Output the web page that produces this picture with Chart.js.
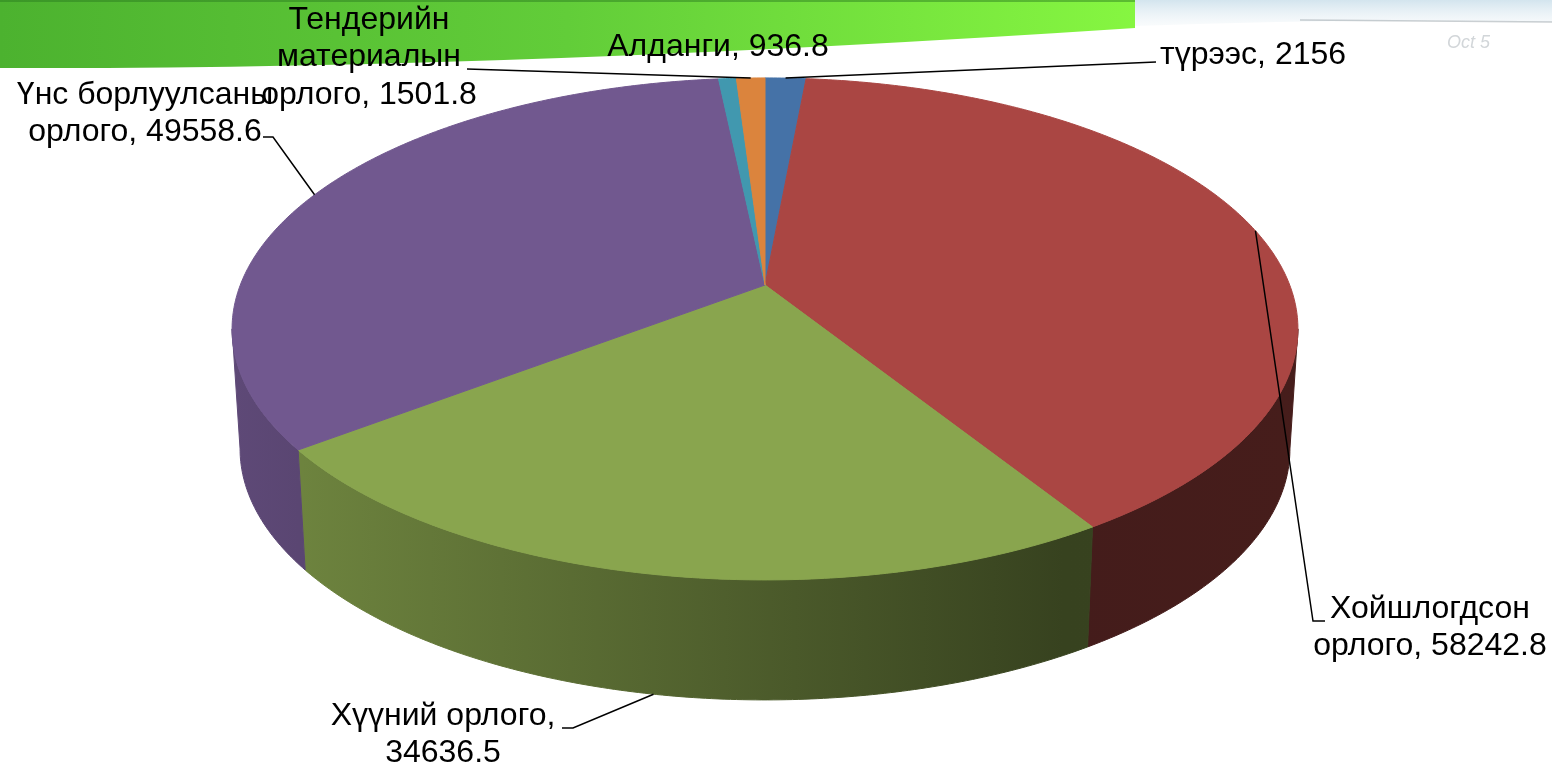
<!DOCTYPE html>
<html lang="mn">
<head>
<meta charset="utf-8">
<title>Орлого</title>
<script src="https://cdn.jsdelivr.net/npm/chart.js@4.4.1/dist/chart.umd.min.js"></script>
<style>
    html, body { margin: 0; padding: 0; background: #fff; }
    canvas { display: block; }
</style>
</head>
<body>
<canvas id="chart" width="1552" height="768"></canvas>
<script>
// ── Data ──────────────────────────────────────────────
const labels = ['түрээс', 'Хойшлогдсон орлого', 'Хүүний орлого', 'Үнс борлуулсаны орлого', 'Алданги', 'Тендерийн материалын орлого'];
const values = [2156, 58242.8, 34636.5, 49558.6, 936.8, 1501.8];
const colors = ['#4572A7', '#AA4643', '#89A54E', '#71588F', '#4198AF', '#DB843D'];
// words per line for each data label ("name, value")
const labelWrap = [[2], [1, 2], [2, 1], [2, 2], [2], [1, 1, 2]];

// ── Label placement ───────────────────────────────────
const labelLayout = [
    { x: 1160, y: 55, align: 'left', path: [[1156, 62]] },
    { x: 1430, y: 609, align: 'center', path: [[1313, 621], [1325, 621]] },
    { x: 443, y: 716, align: 'center', path: [[573, 728], [562, 728]], edge: 1 },
    { x: 145, y: 95, align: 'center', path: [[273, 137], [263, 137]] },
    { x: 718, y: 47, align: 'center', path: null },
    { x: 369, y: 20, align: 'center', path: [[467, 69]] }
];
const LINE_H = 37.5;
const FONT = '32px "Liberation Sans", Arial, sans-serif';

// ── Perspective view of the pie ───────────────────────
const CX = 765, CY = 285, RX = 524.7, RY = 243.3, K = 0.175;
const DEPTH = 120, BOTTOM_SHRINK = 0.985;

function project(a, h) {
    const u = Math.cos(a), v = Math.sin(a);
    const w = 1 - K * v;
    const s = h ? BOTTOM_SHRINK : 1;
    return [CX + s * RX * u / w, CY + RY * v / w + h * DEPTH];
}

function shade(hex, f) {
    const r = parseInt(hex.slice(1, 3), 16);
    const g = parseInt(hex.slice(3, 5), 16);
    const b = parseInt(hex.slice(5, 7), 16);
    return `rgb(${Math.round(r * f)},${Math.round(g * f)},${Math.round(b * f)})`;
}

function arcPoints(s, e, h) {
    const pts = [];
    const n = Math.max(2, Math.ceil(Math.abs(e - s) / 0.01));
    for (let i = 0; i <= n; i++) pts.push(project(s + (e - s) * i / n, h));
    return pts;
}

const pie3d = {
    id: 'pie3d',
    beforeDraw(chart) {
        const ctx = chart.ctx;
        ctx.save();
        ctx.fillStyle = '#ffffff';
        ctx.fillRect(0, 0, chart.width, chart.height);

        // slide header swoosh
        const g = ctx.createLinearGradient(0, 0, 1135, 0);
        g.addColorStop(0, '#4cb22f');
        g.addColorStop(0.5, '#62cd39');
        g.addColorStop(1, '#86f641');
        ctx.fillStyle = g;
        ctx.beginPath();
        ctx.moveTo(0, 0);
        ctx.lineTo(1135, 0);
        ctx.lineTo(1135, 28);
        ctx.quadraticCurveTo(500, 70, 0, 68);
        ctx.closePath();
        ctx.fill();
        ctx.fillStyle = 'rgba(40,120,30,0.45)';
        ctx.fillRect(0, 0, 1135, 2);

        const g2 = ctx.createLinearGradient(0, 0, 0, 26);
        g2.addColorStop(0, 'rgba(200,222,234,0.8)');
        g2.addColorStop(1, 'rgba(235,242,246,0.3)');
        ctx.fillStyle = g2;
        ctx.beginPath();
        ctx.moveTo(1135, 0);
        ctx.lineTo(1552, 0);
        ctx.lineTo(1552, 22);
        ctx.quadraticCurveTo(1350, 18, 1135, 26);
        ctx.closePath();
        ctx.fill();
        ctx.strokeStyle = 'rgba(150,160,165,0.5)';
        ctx.lineWidth = 1.5;
        ctx.beginPath();
        ctx.moveTo(1300, 20);
        ctx.quadraticCurveTo(1420, 21, 1552, 22);
        ctx.stroke();

        ctx.fillStyle = '#d2d6d9';
        ctx.font = 'italic 18px "Liberation Sans", Arial, sans-serif';
        ctx.textBaseline = 'middle';
        ctx.fillText('Oct 5', 1447, 43);
        ctx.restore();
    },
    beforeDatasetsDraw(chart) {
        const ctx = chart.ctx;
        const arcs = chart.getDatasetMeta(0).data;
        const lo = Math.asin(K), hi = Math.PI - Math.asin(K);
        ctx.save();
        ctx.lineJoin = 'round';

        // outer wall, front part only
        arcs.forEach((arc, i) => {
            const s = Math.max(arc.startAngle, lo);
            const e = Math.min(arc.endAngle, hi);
            if (e <= s) return;
            const top = arcPoints(s, e, 0);
            const bot = arcPoints(s, e, 1).reverse();
            const grad = ctx.createLinearGradient(CX - 533, 0, CX + 533, 0);
            grad.addColorStop(0, shade(colors[i], 0.83));
            grad.addColorStop(0.78, shade(colors[i], 0.4));
            grad.addColorStop(1, shade(colors[i], 0.41));
            ctx.beginPath();
            [...top, ...bot].forEach(([x, y], j) => j ? ctx.lineTo(x, y) : ctx.moveTo(x, y));
            ctx.closePath();
            ctx.fillStyle = grad;
            ctx.strokeStyle = grad;
            ctx.lineWidth = 1;
            ctx.fill();
            ctx.stroke();
        });

        // top face
        arcs.forEach((arc, i) => {
            const pts = arcPoints(arc.startAngle, arc.endAngle, 0);
            ctx.beginPath();
            ctx.moveTo(CX, CY);
            pts.forEach(([x, y]) => ctx.lineTo(x, y));
            ctx.closePath();
            ctx.fillStyle = colors[i];
            ctx.strokeStyle = colors[i];
            ctx.lineWidth = 1;
            ctx.fill();
            ctx.stroke();
        });
        ctx.restore();
        return false;
    },
    afterDraw(chart) {
        // data labels with leader lines
        const ctx = chart.ctx;
        const arcs = chart.getDatasetMeta(0).data;
        ctx.save();
        ctx.font = FONT;
        ctx.textBaseline = 'middle';
        ctx.fillStyle = '#000';
        ctx.strokeStyle = '#000';
        ctx.lineWidth = 1.5;

        arcs.forEach((arc, i) => {
            const lay = labelLayout[i];
            if (lay.path) {
                const mid = (arc.startAngle + arc.endAngle) / 2;
                const [ax, ay] = project(mid, lay.edge || 0);
                ctx.beginPath();
                ctx.moveTo(ax, ay);
                lay.path.forEach(([x, y]) => ctx.lineTo(x, y));
                ctx.stroke();
            }
            const words = `${labels[i]}, ${values[i]}`.split(' ');
            let k = 0;
            ctx.textAlign = lay.align;
            labelWrap[i].forEach((count, line) => {
                const txt = words.slice(k, k + count).join(' ');
                k += count;
                ctx.fillText(txt, lay.x, lay.y + line * LINE_H);
            });
        });
        ctx.restore();
    }
};

new Chart(document.getElementById('chart'), {
    type: 'pie',
    data: {
        labels,
        datasets: [{
            data: values,
            backgroundColor: colors,
            borderWidth: 0
        }]
    },
    plugins: [pie3d],
    options: {
        responsive: false,
        animation: false,
        events: [],
        plugins: {
            legend: { display: false },
            tooltip: { enabled: false }
        }
    }
});
</script>
</body>
</html>
